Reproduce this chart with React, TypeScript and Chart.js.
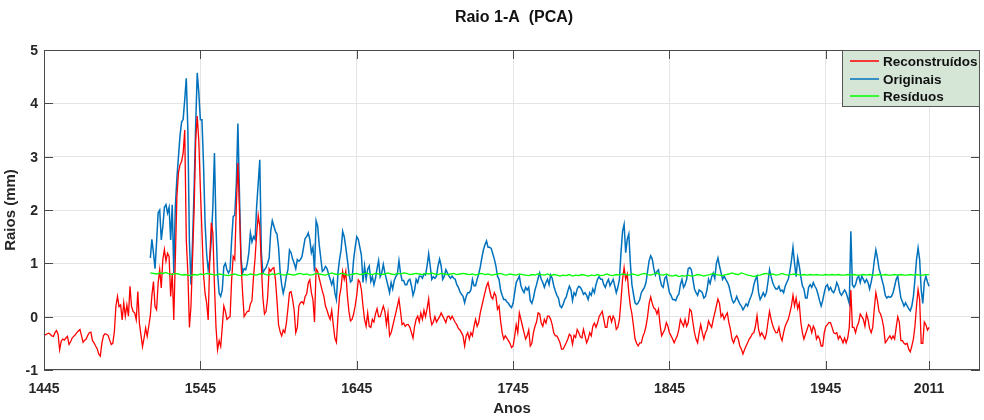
import React, { useEffect, useRef } from "react";
import { Chart, registerables } from "chart.js";

Chart.register(...registerables);

const TITLE = "Raio 1-A  (PCA)";
const X_LABEL = "Anos";
const Y_LABEL = "Raios (mm)";
const SERIES_NAMES = ["Reconstruídos", "Originais", "Resíduos"];
const X_TICKS = [1445, 1545, 1645, 1745, 1845, 1945, 2011];
const Y_TICKS = [-1, 0, 1, 2, 3, 4, 5];
const X_MIN = 1445;
const X_MAX = 2043.6;

// Reconstruídos (red), yearly, by segment start year
const red1445 = [
  -0.33, -0.34, -0.32, -0.31, -0.33, -0.36, -0.37, -0.3, -0.26, -0.33,
  -0.62, -0.46, -0.42, -0.44, -0.4, -0.37, -0.52, -0.47, -0.4, -0.37,
  -0.34, -0.3, -0.27, -0.24, -0.36, -0.48, -0.44, -0.42, -0.35, -0.3,
  -0.29, -0.45, -0.49, -0.55, -0.6, -0.7, -0.74, -0.5, -0.36, -0.32,
  -0.33, -0.35, -0.44, -0.52, -0.5, -0.28, 0.2, 0.38, 0.19, 0.22,
  -0.06, 0.26, 0.01, 0.22, 0.01, 0.57, 0.19, 0.1, 0.07, -0.06,
  0.47, -0.12, -0.34, -0.56, -0.4, -0.21, -0.37, -0.18,
];
const red1513 = [
  0.02, 0.4, 0.66, 0.19, 0.13, 0.63, 0.88, 0.54, 1.07, 1.26,
  1.04, 1.19, 1.13, 0.38, 0.82, -0.06, 1.1, 2.26, 2.7, 2.85,
  2.91, 3.07, 3.5, 1.44, 0.82, -0.2, 0.2, 1.1, 2.0, 3.3,
  3.76, 3.3, 2.4, 1.6, 0.8, 0.44, 0.26, -0.06, 1.07, 1.76,
  1.57, 0.6, -0.2, -0.62, -0.45, -0.56, -0.2, 0.2, 0.1, -0.05,
  -0.02, 0.0, 0.69, 1.13, 1.07, 2.07, 2.88,
];
const red1570 = [
  2.0, 1.0, 0.45, 0.0, 0.05, 0.1, 0.1, 0.24, 0.3, 0.75,
  1.1, 1.55, 1.9, 1.69, 0.95, 0.35, 0.05, 0.1, 0.35, 0.9,
  0.85, 0.9, 0.92, 0.7, 0.3, -0.15, -0.28, -0.36, -0.25, -0.3,
  -0.12, 0.15, 0.45, 0.47, 0.32, 0.12, -0.3, -0.2, 0.2, 0.26,
  0.28, 0.24, 0.38, 0.43, 0.63, 0.69, 0.45, 0.32, -0.1, 0.9,
  0.85, 0.72, 0.6, 0.48, 0.38, 0.2, 0.12, 0.02, -0.05, 0.12,
  -0.15, -0.4, -0.48, 0.0, 0.38, 0.55, 0.85, 0.7, 0.85, 0.4,
  0.1, -0.08, -0.05, 0.05, 0.2, 0.4, 0.69,
];
const red1647 = [
  0.65, 0.5, 0.2, -0.05, -0.18, 0.07, -0.18, -0.2, -0.05, -0.1,
  0.05, 0.15, 0.0, 0.0, 0.1, 0.2, 0.1, -0.15, 0.07, -0.36,
  -0.3, -0.18, -0.05, 0.07, 0.2, 0.33, 0.1, -0.15, -0.12, -0.18,
  -0.15, -0.15, -0.2, -0.3, -0.4, -0.18, -0.05, 0.01, -0.1, 0.07,
  -0.05, 0.12, 0.0, 0.15, 0.33, 0.0, -0.15, -0.1, 0.0, -0.1,
  -0.05, 0.0, 0.07, 0.01, -0.05, -0.11, 0.0, 0.01, -0.05, 0.01,
  -0.05, -0.11, -0.15, -0.22, -0.25, -0.3, -0.36, -0.55, -0.36, -0.3,
  -0.42, -0.3, -0.36, -0.18, -0.05, -0.18, -0.11, 0.07, 0.2, 0.33,
  0.45, 0.57, 0.64, 0.5, 0.37, 0.33, 0.45, 0.39, 0.14, 0.2,
  -0.08, -0.3, -0.42, -0.36, -0.4, -0.45, -0.5, -0.58, -0.55, -0.37,
  -0.15, -0.3, 0.07, -0.05, -0.18, -0.3, -0.42, -0.36, -0.25, -0.55,
  -0.5, -0.3, -0.18, -0.1, 0.07, 0.05, -0.12, -0.18, -0.05, -0.12,
  0.01, 0.01, -0.05, -0.15, -0.3, -0.36, -0.36, -0.42,
];
const red1775 = [
  -0.49, -0.61, -0.61, -0.55, -0.49, -0.42, -0.33, -0.36, -0.52, -0.35,
  -0.39, -0.24, -0.3, -0.38, -0.4, -0.24, -0.36, -0.49, -0.42, -0.3,
  -0.36, -0.18, -0.12, -0.2, -0.12, 0.0, 0.05, 0.1, -0.05, -0.2,
  -0.2, 0.0, 0.01, -0.1, 0.01, -0.05, -0.24, -0.2, -0.05, 0.3,
  0.7, 0.92, 0.7, 0.8, 0.45, 0.2, 0.05, -0.18, -0.42, -0.5,
  -0.55, -0.49, -0.49, -0.37, -0.3, -0.18, 0.0, 0.25, 0.37, 0.25,
  0.16, 0.14, 0.05, 0.14, -0.15, -0.36, -0.3, -0.24, -0.11, -0.18,
  -0.3, -0.36, -0.42, -0.49, -0.42, -0.36, -0.24, -0.05, -0.12, -0.18,
  -0.05, -0.18, -0.11, 0.14, 0.1, -0.11, -0.3, -0.42, -0.49, -0.3,
  -0.15, -0.3, -0.42, -0.3, -0.24, -0.08, -0.15, -0.2, -0.05, 0.07,
  0.2, 0.33, 0.25, 0.0, 0.05, -0.05, 0.02, 0.07, -0.11, -0.24,
  -0.42, -0.49, -0.4,
];
const red1888 = [
  -0.36, -0.42, -0.55, -0.61, -0.7, -0.62, -0.55, -0.49, -0.42, -0.38,
  -0.32, -0.3, -0.18, 0.02, -0.24, -0.36, -0.3, -0.36, -0.42, -0.32,
  -0.1, 0.1, -0.05, -0.16, -0.24, -0.3, -0.3, -0.2, -0.37, -0.45,
  -0.3, -0.18, -0.11, -0.05, 0.07, 0.2, 0.4, 0.2, 0.35, 0.15,
  0.25, -0.1, -0.3, -0.42, -0.33, -0.24, -0.15, -0.18, -0.3, -0.18,
  -0.24, -0.42, -0.36, -0.42, -0.55, -0.55, -0.3, -0.18, -0.15, -0.11,
  -0.11, -0.2, -0.3, -0.32, -0.3, -0.42, -0.36, -0.42, -0.49, -0.4,
  -0.49, -0.4, -0.2, 0.5, -0.2, -0.2, -0.3, -0.18, -0.11, 0.05,
  0.0, -0.05, -0.18, 0.05, -0.05, -0.22, -0.3, -0.2, 0.15, 0.45,
  0.3, 0.1, 0.05, -0.05, -0.2, -0.49, -0.45, -0.4, -0.36, -0.42,
  -0.36, -0.42, -0.2, 0.0, -0.1, -0.45, -0.45, -0.5, -0.52, -0.5,
  -0.61, -0.66, -0.55, -0.42, -0.18, 0.2, 0.51, 0.32, -0.5, -0.5,
  -0.1, -0.15, -0.25, -0.2,
];

// Originais (blue), yearly
const blue1513 = [
  1.1, 1.45, 1.2, 0.9, 1.4, 1.95, 2.0, 1.44, 1.69, 2.05,
  2.1, 1.94, 2.05, 1.44, 2.1, 0.82, 2.07, 2.6, 3.0, 3.4,
  3.65, 3.7, 4.07, 4.47, 3.5, 1.4, 0.6, 1.4, 2.4, 3.6,
  4.57, 4.2, 3.69, 3.69, 2.88, 1.76, 1.19, 0.88, 1.07, 1.44,
  2.07, 3.07, 1.69, 0.82, 0.44, 0.38, 0.5, 0.94, 1.0, 0.88,
  0.82, 0.88, 1.44, 1.88, 1.9, 2.5, 3.62,
];
const blue1570 = [
  2.3, 1.1, 0.82, 0.9, 0.88, 1.0, 1.2, 1.57, 1.4, 1.5,
  1.45, 2.07, 2.5, 2.94, 1.2, 0.82, 0.88, 0.92, 1.0, 1.1,
  1.6, 1.8, 1.7, 1.6, 1.55, 1.3, 0.85, 0.6, 0.44, 0.57,
  0.76, 0.88, 1.25, 1.2, 1.08, 1.0, 0.9, 1.07, 1.04, 1.07,
  1.13, 1.3, 1.47, 1.5, 1.57, 1.45, 1.2, 1.3, 0.85, 1.8,
  1.7, 1.35, 1.1, 0.85, 0.88, 0.94, 0.9, 0.8, 0.7, 0.6,
  0.7, 0.45, 0.32, 0.82, 1.07, 1.25, 1.6, 1.5, 1.3, 1.07,
  0.82, 0.65, 0.68, 1.07, 1.3, 1.5, 1.45,
];
const blue1647 = [
  1.3, 1.15, 0.64, 0.95, 0.7, 0.89, 0.95, 0.66, 0.75, 0.6,
  0.72, 0.9, 1.05, 0.75, 0.82, 0.98, 0.82, 0.7, 0.58, 0.45,
  0.64, 0.52, 0.68, 0.75, 0.8, 1.05, 0.82, 0.68, 0.68, 0.6,
  0.6, 0.68, 0.7, 0.58, 0.4, 0.5, 0.7, 0.64, 0.76, 0.76,
  0.72, 0.8, 0.78, 0.95, 1.18, 0.95, 0.7, 0.75, 0.72, 0.76,
  0.95, 1.08, 0.95, 0.7, 0.76, 0.88, 0.82, 0.76, 0.72, 0.76,
  0.72, 0.7, 0.6, 0.55, 0.47, 0.42, 0.38, 0.26, 0.38, 0.45,
  0.45, 0.5, 0.7, 0.58, 0.58, 0.7, 0.8, 0.93, 1.1, 1.25,
  1.35, 1.42, 1.3, 1.3, 1.28, 1.18, 1.08, 0.95, 0.76, 0.7,
  0.5, 0.4, 0.32, 0.32, 0.28, 0.25, 0.2, 0.17, 0.25, 0.45,
  0.64, 0.7, 0.76, 0.58, 0.5, 0.45, 0.55, 0.5, 0.55, 0.3,
  0.25, 0.35, 0.5, 0.6, 0.72, 0.82, 0.7, 0.64, 0.55, 0.64,
  0.7, 0.6, 0.78, 0.72, 0.58, 0.48, 0.4, 0.35,
];
const blue1775 = [
  0.2, 0.17, 0.23, 0.32, 0.37, 0.48, 0.57, 0.5, 0.3, 0.45,
  0.4, 0.52, 0.57, 0.55, 0.5, 0.42, 0.45, 0.4, 0.32, 0.45,
  0.4, 0.52, 0.45, 0.6, 0.7, 0.75, 0.7, 0.7, 0.6, 0.55,
  0.64, 0.7, 0.58, 0.64, 0.7, 0.58, 0.45, 0.55, 0.7, 1.2,
  1.6, 1.73, 1.2, 1.45, 1.55, 1.0, 0.6, 0.42, 0.26, 0.23,
  0.26, 0.32, 0.45, 0.5, 0.55, 0.64, 0.85, 1.05, 1.14, 1.08,
  0.9, 0.78, 0.85, 0.88, 0.7, 0.58, 0.55, 0.72, 0.76, 0.6,
  0.45, 0.4, 0.32, 0.32, 0.3, 0.38, 0.42, 0.6, 0.7, 0.55,
  0.6, 0.7, 0.9, 0.92, 0.88, 0.7, 0.52, 0.45, 0.4, 0.5,
  0.48, 0.45, 0.35, 0.38, 0.5, 0.7, 0.62, 0.75, 0.82, 0.72,
  1.0, 1.1, 0.95, 0.82, 0.7, 0.76, 0.7, 0.65, 0.58, 0.45,
  0.32, 0.26, 0.3,
];
const blue1888 = [
  0.38, 0.3, 0.24, 0.2, 0.13, 0.18, 0.24, 0.2, 0.3, 0.37,
  0.45, 0.6, 0.7, 0.76, 0.45, 0.32, 0.38, 0.45, 0.38, 0.45,
  0.65, 0.88, 0.75, 0.64, 0.57, 0.52, 0.52, 0.57, 0.48, 0.5,
  0.45, 0.57, 0.64, 0.7, 0.85, 1.05, 1.3, 1.0, 0.75, 1.1,
  0.95, 0.75, 0.58, 0.52, 0.35, 0.35, 0.55, 0.6, 0.55, 0.64,
  0.57, 0.52, 0.42, 0.3, 0.2, 0.3, 0.45, 0.57, 0.6, 0.5,
  0.55, 0.48, 0.45, 0.52, 0.64, 0.57, 0.45, 0.4, 0.45, 0.5,
  0.45, 0.35, 0.25, 1.6, 0.6, 0.55, 0.6, 0.72, 0.76, 0.64,
  0.76, 0.7, 0.64, 0.7, 0.64, 0.52, 0.65, 0.8, 1.05, 1.25,
  1.1, 0.9, 0.8, 0.68, 0.57, 0.4, 0.35, 0.38, 0.36, 0.38,
  0.45, 0.57, 0.7, 0.76, 0.55, 0.35, 0.28, 0.2, 0.26, 0.2,
  0.15, 0.11, 0.2, 0.38, 0.7, 1.07, 1.29, 1.07, 0.5, 0.25,
  0.65, 0.76, 0.65, 0.57,
];

// Resíduos (green), every 2 years from 1513
const GREEN_START = 1513;
const GREEN_STEP = 2;
const green = [
  0.82, 0.81, 0.8, 0.82, 0.81, 0.83, 0.8, 0.79, 0.81, 0.8, 0.78, 0.79, 0.78, 0.77, 0.79, 0.78, 0.8, 0.79, 0.81, 0.8, 0.79, 0.78, 0.8, 0.79, 0.78,
  0.77, 0.79, 0.8, 0.78, 0.77, 0.79, 0.78, 0.8, 0.79, 0.78, 0.8, 0.81, 0.79, 0.78, 0.8, 0.79, 0.81, 0.79, 0.78, 0.8, 0.79, 0.78, 0.8, 0.81, 0.79,
  0.8, 0.78, 0.79, 0.81, 0.8, 0.79, 0.78, 0.8, 0.82, 0.8, 0.79, 0.81, 0.8, 0.78, 0.79, 0.8, 0.81, 0.79, 0.8, 0.82, 0.8, 0.79, 0.81, 0.8, 0.79,
  0.8, 0.82, 0.8, 0.79, 0.81, 0.8, 0.82, 0.81, 0.79, 0.8, 0.81, 0.8, 0.79, 0.81, 0.8, 0.82, 0.8, 0.79, 0.81, 0.8, 0.79, 0.8, 0.81, 0.79, 0.8,
  0.81, 0.8, 0.79, 0.8, 0.78, 0.8, 0.81, 0.79, 0.8, 0.78, 0.79, 0.8, 0.81, 0.79, 0.78, 0.8, 0.79, 0.78, 0.8, 0.79, 0.78, 0.77, 0.79, 0.78, 0.8,
  0.79, 0.78, 0.8, 0.77, 0.79, 0.78, 0.76, 0.78, 0.77, 0.79, 0.76, 0.78, 0.77, 0.79, 0.78, 0.76, 0.78, 0.77, 0.79, 0.77, 0.78, 0.8, 0.78, 0.77, 0.79,
  0.78, 0.8, 0.79, 0.78, 0.8, 0.79, 0.77, 0.8, 0.81, 0.79, 0.78, 0.8, 0.82, 0.79, 0.78, 0.8, 0.77, 0.76, 0.78, 0.75, 0.77, 0.76, 0.78, 0.76, 0.77,
  0.79, 0.78, 0.76, 0.78, 0.79, 0.81, 0.79, 0.78, 0.77, 0.79, 0.8, 0.82, 0.8, 0.79, 0.82, 0.8, 0.78, 0.77, 0.75, 0.77, 0.78, 0.8, 0.81, 0.79, 0.8,
  0.78, 0.79, 0.81, 0.79, 0.78, 0.79, 0.8, 0.79, 0.78, 0.79, 0.78, 0.79, 0.78, 0.79, 0.78, 0.78, 0.79, 0.78, 0.79, 0.78, 0.79, 0.78, 0.78, 0.79, 0.78,
  0.79, 0.78, 0.78, 0.79, 0.78, 0.79, 0.78, 0.78, 0.79, 0.78, 0.79, 0.78, 0.78, 0.79, 0.78, 0.79, 0.78, 0.78, 0.79, 0.78, 0.79, 0.78, 0.78, 0.79, 0.79,
];

const RED_SEGMENTS: [number, number[]][] = [
  [1445, red1445], [1513, red1513], [1570, red1570], [1647, red1647], [1775, red1775], [1888, red1888],
];
const BLUE_SEGMENTS: [number, number[]][] = [
  [1513, blue1513], [1570, blue1570], [1647, blue1647], [1775, blue1775], [1888, blue1888],
];

function segPoints(segs: [number, number[]][]) {
  const pts: { x: number; y: number }[] = [];
  segs.forEach(([start, vals]) => vals.forEach((v, i) => pts.push({ x: start + i, y: v })));
  return pts;
}

const FONT = "'Liberation Sans', Arial, Helvetica, sans-serif";
const TEXT = "#262626";
const COLORS = ["#ff0000", "#0072bd", "#00ff00"];

const decor = {
  id: "decor",
  afterDatasetsDraw(chart: any) {
    const { ctx, chartArea: a, scales } = chart;
    const xs = scales.x, ys = scales.y;
    ctx.save();
    ctx.strokeStyle = "#4a4a4a";
    ctx.lineWidth = 1;
    ctx.strokeRect(a.left + 0.5, a.top + 0.5, a.right - a.left - 1, a.bottom - a.top - 1);
    ctx.beginPath();
    X_TICKS.forEach((v) => {
      const px = Math.round(xs.getPixelForValue(v)) + 0.5;
      ctx.moveTo(px, a.bottom);
      ctx.lineTo(px, a.bottom - 9);
      ctx.moveTo(px, a.top);
      ctx.lineTo(px, a.top + 9);
    });
    Y_TICKS.forEach((v) => {
      const py = Math.round(ys.getPixelForValue(v)) + 0.5;
      ctx.moveTo(a.left, py);
      ctx.lineTo(a.left + 9, py);
      ctx.moveTo(a.right, py);
      ctx.lineTo(a.right - 9, py);
    });
    ctx.stroke();

    // tick labels
    ctx.fillStyle = TEXT;
    ctx.font = `bold 14px ${FONT}`;
    ctx.textAlign = "center";
    ctx.textBaseline = "alphabetic";
    X_TICKS.forEach((v) => ctx.fillText(String(v), xs.getPixelForValue(v), 393));
    ctx.textAlign = "right";
    ctx.textBaseline = "middle";
    Y_TICKS.forEach((v) => ctx.fillText(String(v), 38, ys.getPixelForValue(v) + 1));

    // axis titles
    ctx.font = `bold 15px ${FONT}`;
    ctx.textAlign = "center";
    ctx.textBaseline = "middle";
    ctx.fillText(X_LABEL, (a.left + a.right) / 2, 409);
    ctx.save();
    ctx.translate(11, (a.top + a.bottom) / 2);
    ctx.rotate(-Math.PI / 2);
    ctx.fillText(Y_LABEL, 0, 0);
    ctx.restore();

    // title
    ctx.fillStyle = "#111";
    ctx.font = `bold 16px ${FONT}`;
    ctx.fillText(TITLE, 514, 18);

    // legend
    const lx = 842.5, ly = 50.5, lw = 137, lh = 56;
    ctx.fillStyle = "#d5e5d6";
    ctx.fillRect(lx, ly, lw, lh);
    ctx.strokeStyle = "#555";
    ctx.lineWidth = 1;
    ctx.strokeRect(lx, ly, lw, lh);
    const rows = [61, 79, 96];
    ctx.font = `bold 13.5px ${FONT}`;
    ctx.textAlign = "left";
    ctx.textBaseline = "middle";
    SERIES_NAMES.forEach((name, i) => {
      ctx.strokeStyle = COLORS[i];
      ctx.lineWidth = 1.5;
      ctx.beginPath();
      ctx.moveTo(850, rows[i]);
      ctx.lineTo(879, rows[i]);
      ctx.stroke();
      ctx.fillStyle = "#111";
      ctx.fillText(name, 883, rows[i] + 1);
    });
    ctx.restore();
  },
};

export default function App() {
  const ref = useRef<HTMLCanvasElement>(null);
  useEffect(() => {
    if (!ref.current) return;
    const greenPts = green.map((v, i) => ({ x: GREEN_START + i * GREEN_STEP, y: v }));
    const chart = new Chart(ref.current, {
      type: "line",
      data: {
        datasets: [
          { label: SERIES_NAMES[0], data: segPoints(RED_SEGMENTS), borderColor: COLORS[0], borderWidth: 1.3, pointRadius: 0, tension: 0, order: 1 },
          { label: SERIES_NAMES[1], data: segPoints(BLUE_SEGMENTS), borderColor: COLORS[1], borderWidth: 1.5, pointRadius: 0, tension: 0, order: 2 },
          { label: SERIES_NAMES[2], data: greenPts, borderColor: COLORS[2], borderWidth: 1.3, pointRadius: 0, tension: 0, order: 0 },
        ],
      },
      options: {
        animation: false,
        responsive: false,
        maintainAspectRatio: false,
        events: [],
        layout: { padding: { left: 0, right: 4, top: 50, bottom: 0 } },
        plugins: { legend: { display: false }, title: { display: false }, tooltip: { enabled: false } },
        scales: {
          x: {
            type: "linear",
            min: X_MIN,
            max: X_MAX,
            afterBuildTicks: (s: any) => { s.ticks = X_TICKS.map((v) => ({ value: v })); },
            afterFit: (s: any) => { s.height = 50; },
            ticks: { display: false },
            grid: { color: "#e4e4e4", lineWidth: 1, drawTicks: false },
            border: { display: false },
          },
          y: {
            type: "linear",
            min: -1,
            max: 5,
            afterBuildTicks: (s: any) => { s.ticks = Y_TICKS.map((v) => ({ value: v })); },
            afterFit: (s: any) => { s.width = 44; },
            ticks: { display: false },
            grid: { color: "#e4e4e4", lineWidth: 1, drawTicks: false },
            border: { display: false },
          },
        },
      },
      plugins: [decor],
    } as any);
    return () => chart.destroy();
  }, []);
  return (
    <div style={{ position: "absolute", left: 0, top: 0, width: 984, height: 420, background: "#fff" }}>
      <canvas ref={ref} width={984} height={420} style={{ width: 984, height: 420, display: "block" }} />
    </div>
  );
}
